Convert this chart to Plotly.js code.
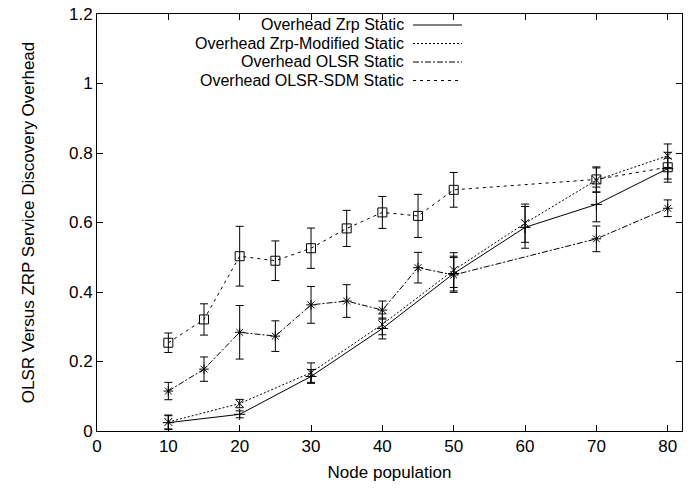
<!DOCTYPE html>
<html>
<head>
<meta charset="utf-8">
<script src="https://cdn.plot.ly/plotly-3.0.1.min.js"></script>
<style>html,body{margin:0;padding:0;background:#fff;}#chart{width:691px;height:490px;}</style>
</head>
<body>
<div id="chart"></div>
<script>
// Data
var zrpX = [10, 20, 30, 40, 50, 60, 70, 80];
var zrpY = [0.024, 0.048, 0.157, 0.295, 0.453, 0.586, 0.652, 0.755];
var zrpErr = [0.02, 0.01, 0.02, 0.03, 0.05, 0.06, 0.05, 0.03];

var zrpModX = [10, 20, 30, 40, 50, 60, 70, 80];
var zrpModY = [0.026, 0.079, 0.168, 0.307, 0.463, 0.598, 0.722, 0.792];
var zrpModErr = [0.02, 0.012, 0.028, 0.03, 0.05, 0.055, 0.035, 0.034];

var olsrX = [10, 15, 20, 25, 30, 35, 40, 45, 50, 70, 80];
var olsrY = [0.115, 0.178, 0.284, 0.273, 0.363, 0.374, 0.348, 0.47, 0.449, 0.553, 0.641];
var olsrErr = [0.025, 0.035, 0.077, 0.044, 0.053, 0.047, 0.026, 0.044, 0.05, 0.037, 0.024];

var sdmX = [10, 15, 20, 25, 30, 35, 40, 45, 50, 70, 80];
var sdmY = [0.254, 0.321, 0.503, 0.49, 0.526, 0.583, 0.629, 0.619, 0.694, 0.724, 0.759];
var sdmErr = [0.028, 0.045, 0.086, 0.057, 0.058, 0.052, 0.046, 0.062, 0.05, 0.036, 0.043];

var seriesNames = ["Overhead Zrp Static", "Overhead Zrp-Modified Static", "Overhead OLSR Static", "Overhead OLSR-SDM Static"];
var xTitle = "Node population";
var yTitle = "OLSR Versus ZRP Service Discovery Overhead";

var dashes = ["solid", "2px,2px", "6px,2px,2px,2px", "3px,4px"];
var symbols = ["cross-thin-open", "x-thin-open", "asterisk-open", "square-open"];
var xs = [zrpX, zrpModX, olsrX, sdmX];
var ys = [zrpY, zrpModY, olsrY, sdmY];
var es = [zrpErr, zrpModErr, olsrErr, sdmErr];

var traces = [];
for (var i = 0; i < 4; i++) {
  traces.push({
    x: xs[i], y: ys[i], name: seriesNames[i],
    type: "scatter", mode: "lines+markers",
    line: {color: "#000", width: 1, dash: dashes[i]},
    marker: {symbol: symbols[i], size: i === 3 ? 9 : 8, color: "#000", line: {color: "#000", width: 1}},
    error_y: {type: "data", array: es[i], visible: true, color: "#000", thickness: 1, width: 4},
    showlegend: false
  });
}

var font = {family: "Liberation Sans, Arial, sans-serif", size: 17, color: "#000"};
var legFont = {family: "Liberation Sans, Arial, sans-serif", size: 16, color: "#000"};
var annotations = [];
var shapes = [];
var rowY = [25, 43.5, 62, 80.5];
var plotL = 97, plotR = 682, plotT = 14, plotB = 431;
function px2x(p){ return (p - plotL) / (plotR - plotL); }
function py2y(p){ return (plotB - p) / (plotB - plotT); }
for (var j = 0; j < 4; j++) {
  annotations.push({
    xref: "paper", yref: "paper", x: px2x(405), y: py2y(rowY[j]),
    xanchor: "right", yanchor: "middle", showarrow: false,
    text: seriesNames[j], font: legFont, borderpad: 0
  });
  shapes.push({
    type: "line", xref: "paper", yref: "paper",
    x0: px2x(413), x1: px2x(462), y0: py2y(rowY[j]), y1: py2y(rowY[j]),
    line: {color: "#000", width: 1, dash: dashes[j]}
  });
}

var axisCommon = {
  showgrid: false, zeroline: false, showline: true, linecolor: "#000", linewidth: 1,
  mirror: "ticks", ticks: "inside", ticklen: 6, tickcolor: "#000", tickwidth: 1,
  tickfont: font
};

var layout = {
  width: 691, height: 490,
  margin: {l: plotL, r: 691 - plotR, t: plotT, b: 490 - plotB},
  paper_bgcolor: "#fff", plot_bgcolor: "#fff",
  font: font,
  xaxis: Object.assign({}, axisCommon, {
    range: [0, 82], tickvals: [0, 10, 20, 30, 40, 50, 60, 70, 80],
    title: {text: xTitle, font: font, standoff: 10}
  }),
  yaxis: Object.assign({}, axisCommon, {
    range: [0, 1.2], tickvals: [0, 0.2, 0.4, 0.6, 0.8, 1, 1.2],
    ticktext: ["0", "0.2", "0.4", "0.6", "0.8", "1", "1.2"],
    title: {text: yTitle, font: font, standoff: 30}
  }),
  annotations: annotations,
  shapes: shapes,
  showlegend: false
};

Plotly.newPlot("chart", traces, layout, {displayModeBar: false, staticPlot: true});
</script>
</body>
</html>
